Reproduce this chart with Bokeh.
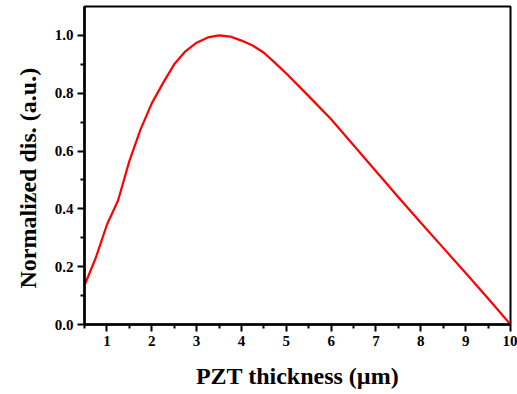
from bokeh.plotting import figure
from bokeh.models import Range1d, FixedTicker, Title
from bokeh.embed import file_html
from bokeh.resources import INLINE

# Data
thickness = [0.5, 0.75, 1.0, 1.25, 1.5, 1.75, 2.0, 2.25, 2.5, 2.75, 3.0, 3.25, 3.5,
             3.75, 4.0, 4.25, 4.5, 4.75, 5.0, 5.5, 6.0, 6.5, 7.0, 7.5, 8.0, 8.5,
             9.0, 9.5, 10.0]
norm_dis = [0.135, 0.23, 0.345, 0.43, 0.565, 0.675, 0.765, 0.835, 0.90, 0.945, 0.975,
            0.993, 1.0, 0.996, 0.982, 0.965, 0.94, 0.905, 0.868, 0.79, 0.71, 0.62,
            0.53, 0.44, 0.352, 0.265, 0.178, 0.09, 0.0]
x_ticks = [1, 2, 3, 4, 5, 6, 7, 8, 9, 10]
x_minor = [0.5, 1.5, 2.5, 3.5, 4.5, 5.5, 6.5, 7.5, 8.5, 9.5]
y_ticks = [0.0, 0.2, 0.4, 0.6, 0.8, 1.0]
y_minor = [0.1, 0.3, 0.5, 0.7, 0.9]

FONT = "Liberation Serif"

p = figure(width=517, height=394, output_backend="svg", toolbar_location=None,
           x_range=Range1d(0.5, 10), y_range=Range1d(0, 1.1),
           min_border_left=84, min_border_right=7, min_border_top=6,
           min_border_bottom=70)

p.line(thickness, norm_dis, line_color="#ff0000", line_width=2.2)

p.xgrid.visible = False
p.ygrid.visible = False
p.outline_line_color = "black"
p.outline_line_width = 2
p.outline_line_alpha = 1
p.background_fill_color = "white"
p.border_fill_color = "white"

p.xaxis.ticker = FixedTicker(ticks=x_ticks, minor_ticks=x_minor)
p.yaxis.ticker = FixedTicker(ticks=y_ticks, minor_ticks=y_minor)
p.yaxis.major_label_overrides = {0.0: "0.0", 0.2: "0.2", 0.4: "0.4", 0.6: "0.6", 0.8: "0.8", 1.0: "1.0"}

p.xaxis.axis_label = "PZT thickness (\u00b5m)"

for ax in (p.xaxis[0], p.yaxis[0]):
    ax.axis_line_width = 2.5
    ax.axis_line_color = "black"
    ax.major_tick_line_width = 2
    ax.minor_tick_line_width = 2
    ax.major_tick_line_color = "black"
    ax.minor_tick_line_color = "black"
    ax.major_tick_in = 0
    ax.major_tick_out = 7
    ax.minor_tick_in = 0
    ax.minor_tick_out = 4
    ax.major_label_text_font = FONT
    ax.major_label_text_font_style = "bold"
    ax.major_label_text_font_size = "15px"
    ax.major_label_text_color = "black"
    ax.major_label_standoff = 4
    ax.axis_label_text_font = FONT
    ax.axis_label_text_font_style = "bold"
    ax.axis_label_text_font_size = "24px"
    ax.axis_label_text_color = "black"

p.xaxis.axis_label_standoff = 14

ytitle = Title(text="Normalized dis. (a.u.)", align="left", offset=36,
               vertical_align="top", standoff=18, text_font=FONT,
               text_font_style="bold", text_font_size="24px", text_color="black")
p.add_layout(ytitle, "left")

open("out.html", "w").write(file_html(p, INLINE))
